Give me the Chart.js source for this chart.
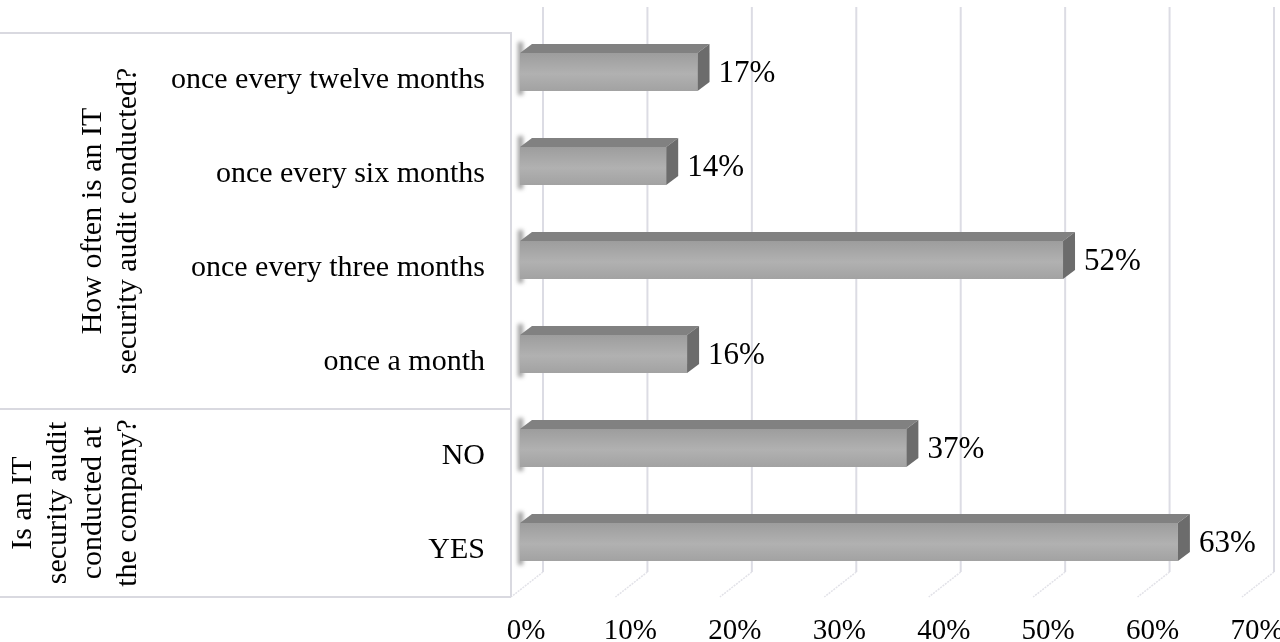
<!DOCTYPE html>
<html>
<head>
<meta charset="utf-8">
<script src="https://cdn.jsdelivr.net/npm/chart.js@4/dist/chart.umd.min.js"></script>
<style>
  body { margin: 0; background: #fff; }
  canvas { display: block; }
</style>
</head>
<body>
<canvas id="auditChart" width="1280" height="642"></canvas>
<script>
// categories top to bottom
const categories = [
  "once every twelve months",
  "once every six months",
  "once every three months",
  "once a month",
  "NO",
  "YES"
];
const shares = [17, 14, 52, 16, 37, 63];

// outer category groups (how many rows each spans)
const groupLines = [
  ["How often is an IT", "security audit conducted?"],
  ["Is an IT", "security audit", "conducted at", "the company?"]
];
const groupSizes = [4, 2];

const SERIF = "'Liberation Serif', 'Times New Roman', serif";
const DEPTH_X = 12, DEPTH_Y = 9, LIFT = 8;

// back wall grid + floor edges
const gridPlugin = {
  id: "grid3d",
  beforeDatasetsDraw(chart) {
    const { ctx, chartArea, scales: { x } } = chart;
    ctx.save();
    ctx.strokeStyle = "#dcdce4";
    ctx.lineWidth = 2;
    for (let v = x.min; v <= x.max; v += 10) {
      const px = x.getPixelForValue(v);
      ctx.beginPath();
      ctx.moveTo(px + 23, chartArea.top - 26);
      ctx.lineTo(px + 23, chartArea.bottom - 25);
      ctx.stroke();
      ctx.save();
      ctx.lineWidth = 1.5;
      ctx.strokeStyle = "#e2e2e8";
      ctx.setLineDash([2, 1]);
      ctx.beginPath();
      ctx.moveTo(px + 23, chartArea.bottom - 25);
      ctx.lineTo(px - 9, chartArea.bottom);
      ctx.stroke();
      ctx.restore();
    }
    ctx.restore();
  }
};

// 3d boxes + value labels
const barsPlugin = {
  id: "bars3d",
  afterDatasetsDraw(chart) {
    const { ctx } = chart;
    const meta = chart.getDatasetMeta(0);
    ctx.save();
    meta.data.forEach((bar, i) => {
      const x0 = bar.base, x1 = bar.x;
      const top = bar.y - bar.height / 2 - LIFT;
      const bot = bar.y + bar.height / 2 - LIFT;

      // soft shadow at the left end
      ctx.save();
      ctx.filter = "blur(2px)";
      ctx.fillStyle = "rgba(70,70,70,0.55)";
      ctx.fillRect(x0 - 2, top - DEPTH_Y - 2, 5, bot - top + DEPTH_Y + 6);
      ctx.restore();

      const g = ctx.createLinearGradient(0, top, 0, bot);
      g.addColorStop(0, "#9d9d9d");
      g.addColorStop(0.55, "#b1b1b1");
      g.addColorStop(1, "#a2a2a2");
      ctx.fillStyle = g;
      ctx.fillRect(x0, top, x1 - x0, bot - top);

      ctx.fillStyle = "#818181";
      ctx.beginPath();
      ctx.moveTo(x0, top);
      ctx.lineTo(x0 + DEPTH_X, top - DEPTH_Y);
      ctx.lineTo(x1 + DEPTH_X, top - DEPTH_Y);
      ctx.lineTo(x1, top);
      ctx.closePath();
      ctx.fill();

      ctx.fillStyle = "#6c6c6c";
      ctx.beginPath();
      ctx.moveTo(x1, top);
      ctx.lineTo(x1 + DEPTH_X, top - DEPTH_Y);
      ctx.lineTo(x1 + DEPTH_X, bot - DEPTH_Y);
      ctx.lineTo(x1, bot);
      ctx.closePath();
      ctx.fill();

      ctx.fillStyle = "#000";
      ctx.font = "31px " + SERIF;
      ctx.textAlign = "left";
      ctx.textBaseline = "middle";
      ctx.fillText(shares[i] + "%", x1 + DEPTH_X + 9, (top + bot) / 2 + 2);
    });
    ctx.restore();
  }
};

// table lines and rotated group titles on the left
const groupPlugin = {
  id: "groups",
  afterDraw(chart) {
    const { ctx, chartArea, scales: { y } } = chart;
    const rowH = y.getPixelForValue(1) - y.getPixelForValue(0);
    const right = chartArea.left - 9;
    ctx.save();
    ctx.strokeStyle = "#d9d9e0";
    ctx.lineWidth = 2;
    ctx.beginPath();
    ctx.moveTo(0, chartArea.top);
    ctx.lineTo(right, chartArea.top);
    ctx.lineTo(right, chartArea.bottom);
    ctx.moveTo(0, chartArea.bottom);
    ctx.lineTo(right, chartArea.bottom);
    ctx.stroke();

    let start = 0;
    groupSizes.forEach((n, gi) => {
      const y0 = y.getPixelForValue(start) - rowH / 2;
      const y1 = y.getPixelForValue(start + n - 1) + rowH / 2;
      if (gi > 0) {
        ctx.beginPath();
        ctx.moveTo(0, y0);
        ctx.lineTo(right, y0);
        ctx.stroke();
      }
      const lines = groupLines[gi];
      ctx.fillStyle = "#000";
      ctx.font = "30px " + SERIF;
      ctx.textAlign = "center";
      ctx.textBaseline = "middle";
      lines.forEach((t, li) => {
        const cx = 128 - (lines.length - 1 - li) * 35;
        ctx.save();
        ctx.translate(cx, (y0 + y1) / 2);
        ctx.rotate(-Math.PI / 2);
        ctx.fillText(t, 0, 0);
        ctx.restore();
      });
      start += n;
    });
    ctx.restore();
  }
};

new Chart(document.getElementById("auditChart"), {
  type: "bar",
  data: {
    labels: categories,
    datasets: [{
      data: shares,
      backgroundColor: "rgba(0,0,0,0)",
      barThickness: 38
    }]
  },
  options: {
    indexAxis: "y",
    responsive: false,
    devicePixelRatio: 1,
    animation: false,
    layout: { padding: { top: 33, right: 29, bottom: 0, left: 0 } },
    plugins: { legend: { display: false }, tooltip: { enabled: false } },
    scales: {
      x: {
        min: 0,
        max: 70,
        grid: { display: false, drawTicks: false },
        border: { display: false },
        afterFit(s) {
          s.height = 45;
          s.paddingLeft = 0; s.paddingRight = 0;
          s.paddingTop = 0; s.paddingBottom = 0;
        },
        ticks: {
          stepSize: 10,
          padding: 17,
          labelOffset: 6,
          color: "#000",
          font: { family: SERIF, size: 29 },
          callback: v => v + "%"
        }
      },
      y: {
        grid: { display: false, drawTicks: false },
        border: { display: false },
        afterFit(s) {
          s.width = 520;
          s.paddingLeft = 0; s.paddingRight = 0;
          s.paddingTop = 0; s.paddingBottom = 0;
        },
        ticks: {
          padding: 35,
          color: "#000",
          font: { family: SERIF, size: 30 }
        }
      }
    }
  },
  plugins: [gridPlugin, barsPlugin, groupPlugin]
});
</script>
</body>
</html>
